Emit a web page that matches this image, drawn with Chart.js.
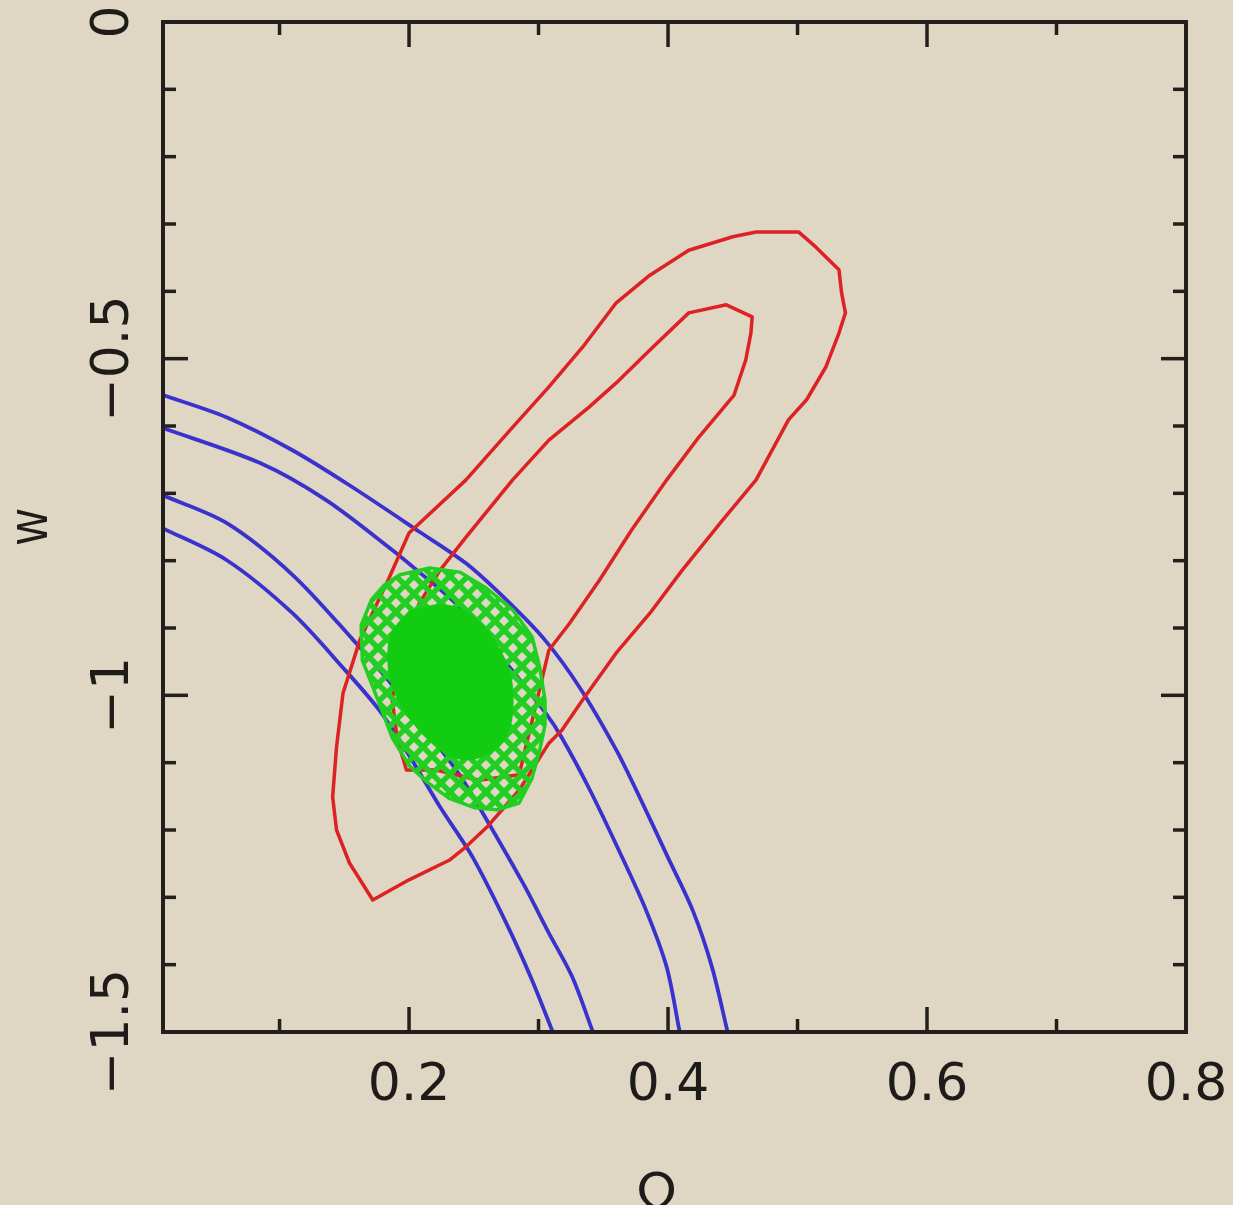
<!DOCTYPE html>
<html><head><meta charset="utf-8">
<script src="https://cdn.jsdelivr.net/npm/chart.js@4.4.1/dist/chart.umd.min.js"></script>
<style>html,body{margin:0;padding:0;background:#dfd7c4;overflow:hidden}canvas{display:block}</style>
</head><body>
<canvas id="c" width="1233" height="1205"></canvas>
<script>
// ---- axes ----
const xRange = [0.01, 0.8];
const yRange = [-1.5, 0];
const xMajorTicks = [0.2, 0.4, 0.6, 0.8];
const xMinorTicks = [0.1, 0.3, 0.5, 0.7];
const xTickLabels = ['0.2', '0.4', '0.6', '0.8'];
const yMajorTicks = [0, -0.5, -1, -1.5];
const yMinorTicks = [-0.1, -0.2, -0.3, -0.4, -0.6, -0.7, -0.8, -0.9, -1.1, -1.2, -1.3, -1.4];
const yTickLabels = ['0', '\u22120.5', '\u22121', '\u22121.5'];
const xTitle = '\u03A9';
const xTitleSub = 'm';
const yTitle = 'w';

// ---- blue (open) contours: [Omega_m, w] ----
const blueOuterUpper = [[0.010,-0.554],[0.059,-0.587],[0.110,-0.636],[0.154,-0.688],[0.208,-0.757],[0.244,-0.804],[0.275,-0.858],[0.305,-0.918],[0.332,-0.989],[0.360,-1.081],[0.378,-1.151],[0.399,-1.237],[0.419,-1.319],[0.434,-1.404],[0.446,-1.500]];
const blueInnerUpper = [[0.010,-0.603],[0.085,-0.655],[0.136,-0.710],[0.187,-0.784],[0.206,-0.814],[0.239,-0.869],[0.275,-0.952],[0.305,-1.025],[0.318,-1.063],[0.339,-1.138],[0.362,-1.230],[0.383,-1.319],[0.399,-1.404],[0.409,-1.500]];
const blueInnerLower = [[0.010,-0.703],[0.059,-0.744],[0.110,-0.821],[0.157,-0.918],[0.185,-0.980],[0.216,-1.059],[0.239,-1.118],[0.257,-1.175],[0.288,-1.279],[0.308,-1.353],[0.326,-1.418],[0.342,-1.500]];
const blueOuterLower = [[0.010,-0.752],[0.059,-0.799],[0.110,-0.878],[0.149,-0.959],[0.177,-1.022],[0.200,-1.089],[0.224,-1.166],[0.249,-1.240],[0.275,-1.338],[0.295,-1.423],[0.311,-1.500]];

// ---- red (closed) contours ----
const redOuter = [[0.468,-0.312],[0.501,-0.312],[0.514,-0.334],[0.532,-0.368],[0.534,-0.402],[0.537,-0.432],[0.532,-0.462],[0.522,-0.512],[0.507,-0.561],[0.493,-0.591],[0.468,-0.680],[0.442,-0.740],[0.411,-0.814],[0.386,-0.878],[0.360,-0.937],[0.334,-1.007],[0.318,-1.052],[0.308,-1.071],[0.285,-1.141],[0.260,-1.196],[0.244,-1.225],[0.231,-1.245],[0.200,-1.274],[0.172,-1.304],[0.154,-1.249],[0.144,-1.200],[0.141,-1.151],[0.144,-1.077],[0.149,-0.997],[0.162,-0.918],[0.185,-0.824],[0.200,-0.759],[0.244,-0.680],[0.278,-0.606],[0.308,-0.542],[0.334,-0.483],[0.360,-0.417],[0.386,-0.376],[0.416,-0.339],[0.450,-0.319],[0.468,-0.312]];
const redInner = [[0.416,-0.432],[0.445,-0.420],[0.465,-0.438],[0.464,-0.462],[0.460,-0.502],[0.451,-0.554],[0.424,-0.616],[0.399,-0.680],[0.372,-0.754],[0.347,-0.829],[0.324,-0.893],[0.308,-0.933],[0.297,-1.022],[0.285,-1.118],[0.254,-1.126],[0.221,-1.111],[0.198,-1.111],[0.191,-1.066],[0.187,-1.007],[0.193,-0.933],[0.208,-0.863],[0.224,-0.814],[0.244,-0.765],[0.280,-0.680],[0.308,-0.621],[0.339,-0.572],[0.360,-0.536],[0.386,-0.487],[0.416,-0.432]];

// ---- green (combined) contours ----
const greenOuter = [[0.193,-0.821],[0.216,-0.811],[0.239,-0.817],[0.260,-0.841],[0.280,-0.873],[0.295,-0.913],[0.301,-0.959],[0.305,-1.007],[0.305,-1.044],[0.301,-1.081],[0.295,-1.123],[0.285,-1.160],[0.268,-1.170],[0.251,-1.167],[0.231,-1.153],[0.214,-1.129],[0.200,-1.104],[0.187,-1.063],[0.176,-1.007],[0.164,-0.948],[0.163,-0.896],[0.171,-0.858],[0.181,-0.836],[0.193,-0.821]];
const greenInner = [[0.200,-0.876],[0.224,-0.866],[0.243,-0.876],[0.258,-0.900],[0.270,-0.933],[0.278,-0.970],[0.280,-1.007],[0.278,-1.044],[0.270,-1.074],[0.254,-1.092],[0.237,-1.093],[0.220,-1.074],[0.202,-1.037],[0.189,-0.995],[0.184,-0.951],[0.187,-0.907],[0.200,-0.876]];

const BG = '#dfd7c4', INK = '#231f1c';
const RED = '#dc2222', BLUE = '#3a32cc', GREEN = '#12cc12', HATCH = '#22ce22';

const pts = a => a.map(p => ({x: p[0], y: p[1]}));
const canvas = document.getElementById('c');
const ctx0 = canvas.getContext('2d');

function hatchPattern() {
  const s = 18, t = document.createElement('canvas');
  t.width = s; t.height = s;
  const g = t.getContext('2d');
  g.strokeStyle = HATCH; g.lineWidth = 5.5;
  g.beginPath();
  for (const o of [-s, 0, s]) {
    g.moveTo(o, 0); g.lineTo(o + s, s);
    g.moveTo(o + s, 0); g.lineTo(o, s);
  }
  g.stroke();
  return ctx0.createPattern(t, 'repeat');
}

const line = (data, color, order, w, tension) => ({
  data: pts(data), showLine: true, borderColor: color, borderWidth: w || 3.5,
  pointRadius: 0, tension: tension || 0, fill: false, order: order,
  borderJoinStyle: 'round', borderCapStyle: 'round'
});

const datasets = [
  Object.assign(line(greenInner, GREEN, 0, 2, 0.3), {fill: 'shape', backgroundColor: GREEN}),
  Object.assign(line(greenOuter, HATCH, 1, 3.5), {fill: 'shape', backgroundColor: hatchPattern()}),
  line(redOuter, RED, 2, 3.5), line(redInner, RED, 2, 3.5),
  line(blueOuterUpper, BLUE, 3, 3.8, 0.3), line(blueInnerUpper, BLUE, 3, 3.8, 0.3),
  line(blueInnerLower, BLUE, 3, 3.8, 0.3), line(blueOuterLower, BLUE, 3, 3.8, 0.3)
];

const framePlugin = {
  id: 'frame',
  beforeDraw(ch) {
    const c = ch.ctx; c.save(); c.fillStyle = BG; c.fillRect(0, 0, ch.width, ch.height); c.restore();
  },
  afterDraw(ch) {
    const c = ch.ctx, a = ch.chartArea, xs = ch.scales.x, ys = ch.scales.y;
    c.save();
    c.strokeStyle = INK; c.lineCap = 'butt'; c.lineWidth = 3.5;
    const seg = (x1, y1, x2, y2) => { c.beginPath(); c.moveTo(x1, y1); c.lineTo(x2, y2); c.stroke(); };
    const MAJ = 25, MIN = 13;
    xMajorTicks.forEach(v => { const p = xs.getPixelForValue(v); seg(p, a.bottom, p, a.bottom - MAJ); seg(p, a.top, p, a.top + MAJ); });
    xMinorTicks.forEach(v => { const p = xs.getPixelForValue(v); seg(p, a.bottom, p, a.bottom - MIN); seg(p, a.top, p, a.top + MIN); });
    yMajorTicks.forEach(v => { const p = ys.getPixelForValue(v); seg(a.left, p, a.left + MAJ, p); seg(a.right, p, a.right - MAJ, p); });
    yMinorTicks.forEach(v => { const p = ys.getPixelForValue(v); seg(a.left, p, a.left + MIN, p); seg(a.right, p, a.right - MIN, p); });
    c.lineWidth = 4;
    c.strokeRect(a.left, a.top, a.right - a.left, a.bottom - a.top);

    c.fillStyle = '#1e1b19';
    c.font = '52px "DejaVu Sans"';
    c.textAlign = 'center'; c.textBaseline = 'alphabetic';
    xMajorTicks.forEach((v, i) => c.fillText(xTickLabels[i], xs.getPixelForValue(v), a.bottom + 68));
    yMajorTicks.forEach((v, i) => {
      c.save(); c.translate(a.left - 35, ys.getPixelForValue(v)); c.rotate(-Math.PI / 2);
      c.fillText(yTickLabels[i], 0, 0); c.restore();
    });
    // y title
    c.save(); c.translate(47, (a.top + a.bottom) / 2); c.rotate(-Math.PI / 2); c.scale(1, 1.2);
    c.font = '48px "Liberation Sans"'; c.fillText(yTitle, 0, 0); c.restore();
    // x title (subscript falls below the page edge)
    const cx = (a.left + a.right) / 2;
    c.font = '52px "DejaVu Sans"'; c.textAlign = 'right';
    c.fillText(xTitle, cx + 2, a.bottom + 178);
    c.font = '36px "DejaVu Sans"'; c.textAlign = 'left';
    c.fillText(xTitleSub, cx + 4, a.bottom + 210);
    c.restore();
  }
};

new Chart(canvas, {
  type: 'scatter',
  data: {datasets},
  options: {
    responsive: false, animation: false, events: [],
    layout: {padding: {left: 163, right: 47, top: 22, bottom: 173}},
    plugins: {legend: {display: false}, tooltip: {enabled: false}, title: {display: false}},
    scales: {
      x: {type: 'linear', min: xRange[0], max: xRange[1], display: false},
      y: {type: 'linear', min: yRange[0], max: yRange[1], display: false}
    }
  },
  plugins: [framePlugin]
});
</script>
</body></html>
